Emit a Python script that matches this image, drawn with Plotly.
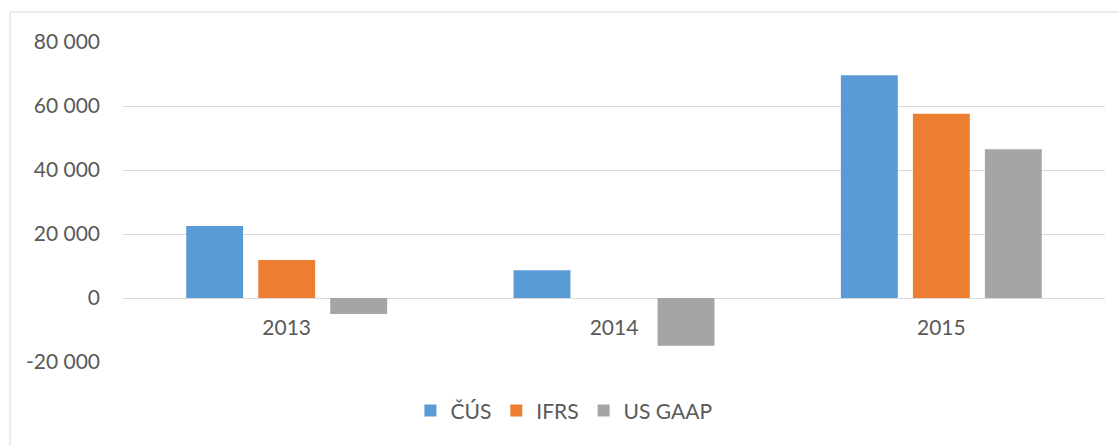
import plotly.graph_objects as go

years = ["2013", "2014", "2015"]
cus = [22500, 8700, 69600]
ifrs = [11900, 0, 57600]
usgaap = [-5000, -14900, 46500]
series_names = ["ČÚS", "IFRS", "US GAAP"]
colors = ["#5B9BD5", "#ED7D31", "#A5A5A5"]
tick_vals = [-20000, 0, 20000, 40000, 60000, 80000]
tick_text = ["-20 000", "0", "20 000", "40 000", "60 000", "80 000"]

fig = go.Figure()
for name, vals, col in zip(series_names, [cus, ifrs, usgaap], colors):
    fig.add_trace(go.Bar(x=years, y=vals, name=name, marker_color=col,
                         marker_line_width=0))

font_col = "#595959"
fig.update_layout(
    width=1119, height=446,
    margin=dict(l=123, r=14, t=42, b=84),
    paper_bgcolor="white", plot_bgcolor="white",
    barmode="group", bargap=0.34, bargroupgap=0.21,
    font=dict(family="Lato, Open Sans, sans-serif", size=21, color=font_col),
    showlegend=True,
    legend=dict(orientation="h", x=0.449, xanchor="center", y=-0.153, yanchor="middle",
                font=dict(size=21, color=font_col), itemwidth=30,
                traceorder="normal"),
    xaxis=dict(anchor="free", position=0.2, showline=False, ticks="",
               showgrid=False, ticklabelstandoff=15,
               tickfont=dict(size=21, color=font_col)),
    yaxis=dict(range=[-20000, 80000], tickvals=tick_vals, ticktext=tick_text,
               showgrid=True, gridcolor="#D9D9D9", gridwidth=1,
               zeroline=True, zerolinecolor="#D9D9D9", zerolinewidth=1,
               showline=False, ticks="", ticklabelstandoff=22,
               tickfont=dict(size=21, color=font_col)),
)
fig.add_shape(type="line", xref="paper", yref="paper", x0=-0.115, x1=1.1, y0=1.094, y1=1.094,
              line=dict(color="#D9D9D9", width=1))
fig.add_shape(type="line", xref="paper", yref="paper", x0=-0.115, x1=-0.115, y0=1.094, y1=-0.5,
              line=dict(color="#D9D9D9", width=1))
fig.write_html("out.html", config={"displayModeBar": False},
               post_script="document.body.style.margin='0';document.body.style.overflow='hidden';")
